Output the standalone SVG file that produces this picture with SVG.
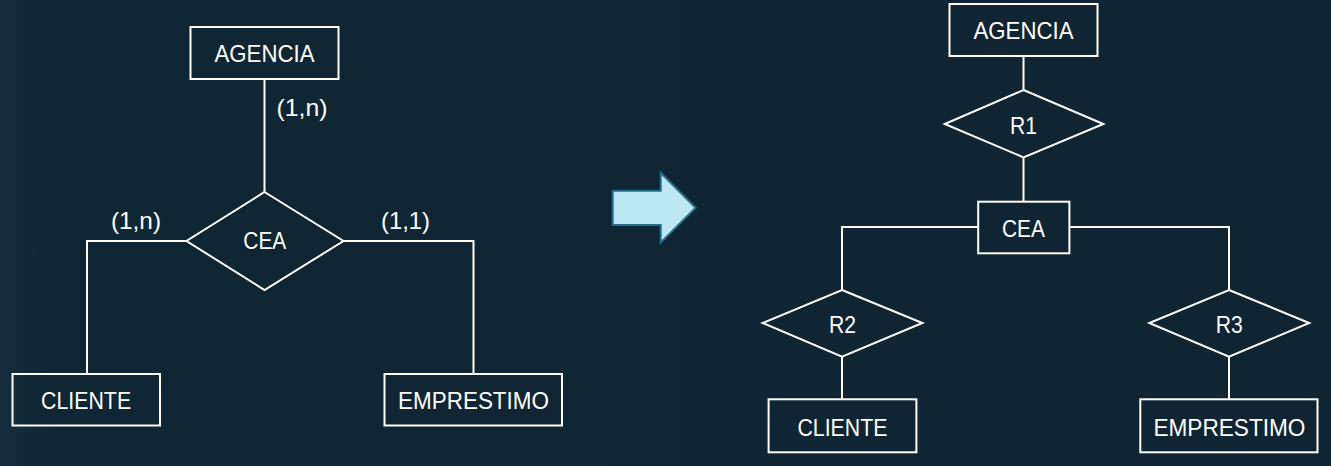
<svg xmlns="http://www.w3.org/2000/svg" width="1331" height="466" viewBox="0 0 1331 466">
<defs>
<linearGradient id="bg" x1="0" y1="0" x2="1" y2="0">
<stop offset="0" stop-color="#142e3d"/>
<stop offset="0.04" stop-color="#0f2634"/>
<stop offset="1" stop-color="#0f2533"/>
</linearGradient>
<style>
.shape{fill:none;stroke:#ffffff;stroke-width:2}
.conn line,.conn polyline{fill:none;stroke:#ffffff;stroke-width:2}
text{font-family:"Liberation Sans",Arial,sans-serif;font-size:24px;fill:#ffffff;text-anchor:middle}
</style>
</defs>
<rect x="0" y="0" width="1331" height="466" fill="url(#bg)"/>

<g id="connectors" class="conn">
<line x1="264.5" y1="79" x2="264.5" y2="192"/>
<polyline points="186.5,241 87,241 87,374"/>
<polyline points="343.5,241 473.5,241 473.5,374"/>
<line x1="1023.5" y1="56" x2="1023.5" y2="90"/>
<line x1="1023.5" y1="157" x2="1023.5" y2="202"/>
<polyline points="978,227 842,227 842,290"/>
<polyline points="1069,227 1229,227 1229,290"/>
<line x1="842" y1="357" x2="842" y2="399"/>
<line x1="1229" y1="357" x2="1229" y2="399"/>
</g>

<g id="labels">
<text x="302" y="116" textLength="51" lengthAdjust="spacingAndGlyphs">(1,n)</text>
<text x="136" y="229" textLength="50" lengthAdjust="spacingAndGlyphs">(1,n)</text>
<text x="405.5" y="229" textLength="49" lengthAdjust="spacingAndGlyphs">(1,1)</text>
</g>

<g id="agencia-left">
<rect class="shape" x="190.5" y="27" width="148" height="52"/>
<text x="264.5" y="62" textLength="100" lengthAdjust="spacingAndGlyphs">AGENCIA</text>
</g>
<g id="cea-left">
<polygon class="shape" points="264.5,192 343.5,241 264.5,290 186.5,241"/>
<text x="264.8" y="249.3" textLength="43" lengthAdjust="spacingAndGlyphs">CEA</text>
</g>
<g id="cliente-left">
<rect class="shape" x="12.5" y="374" width="147.5" height="51.5"/>
<text x="86.1" y="409.3" textLength="90" lengthAdjust="spacingAndGlyphs">CLIENTE</text>
</g>
<g id="emprestimo-left">
<rect class="shape" x="384.5" y="374" width="177.5" height="51.5"/>
<text x="473.5" y="409.3" textLength="151" lengthAdjust="spacingAndGlyphs">EMPRESTIMO</text>
</g>

<g id="arrow">
<polygon points="612.7,190.7 660.7,190.7 660.7,172.7 695.7,207.7 660.7,242.7 660.7,225 612.7,225" fill="#bde6f3" stroke="#1f6f8b" stroke-width="2"/>
</g>

<g id="agencia-right">
<rect class="shape" x="949.5" y="4" width="148" height="52"/>
<text x="1023.5" y="39.3" textLength="100" lengthAdjust="spacingAndGlyphs">AGENCIA</text>
</g>
<g id="r1">
<polygon class="shape" points="1023.5,90 1103.4,124 1023.5,157.3 944.7,124"/>
<text x="1023.5" y="134" textLength="27" lengthAdjust="spacingAndGlyphs">R1</text>
</g>
<g id="cea-right">
<rect class="shape" x="978.2" y="201.7" width="91.2" height="51.6"/>
<text x="1023.5" y="237.3" textLength="43" lengthAdjust="spacingAndGlyphs">CEA</text>
</g>
<g id="r2">
<polygon class="shape" points="842,290 922.4,323 842,356.7 762.6,323"/>
<text x="842.5" y="333.3" textLength="27" lengthAdjust="spacingAndGlyphs">R2</text>
</g>
<g id="r3">
<polygon class="shape" points="1229,290 1309.2,323 1229,356.7 1149.3,323"/>
<text x="1229.2" y="333.3" textLength="27" lengthAdjust="spacingAndGlyphs">R3</text>
</g>
<g id="cliente-right">
<rect class="shape" x="768.6" y="399.3" width="147.8" height="53"/>
<text x="842.4" y="435.7" textLength="90" lengthAdjust="spacingAndGlyphs">CLIENTE</text>
</g>
<g id="emprestimo-right">
<rect class="shape" x="1140.3" y="399.3" width="177.2" height="53"/>
<text x="1229.4" y="435.7" textLength="152" lengthAdjust="spacingAndGlyphs">EMPRESTIMO</text>
</g>
</svg>
